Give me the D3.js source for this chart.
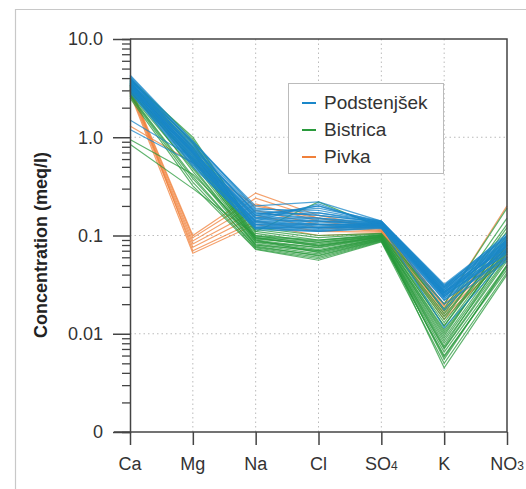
<!DOCTYPE html>
<html>
<head>
<meta charset="utf-8">
<script src="https://cdn.jsdelivr.net/npm/d3@7"></script>
<style>
  body { margin: 0; background: #fff; }
  svg { display: block; font-family: "Liberation Sans", Arial, sans-serif; }
</style>
</head>
<body>
<svg id="chart" width="526" height="489"></svg>
<script>
// ions on the x axis
var ions = ['Ca', 'Mg', 'Na', 'Cl', 'SO4', 'K', 'NO3']

// y ticks (log scale, bottom tick labelled "0")
var yTicks = [10, 1, 0.1, 0.01, 0.001]
var yTickLabels = ['10.0', '1.0', '0.1', '0.01', '0']

// samples, values in meq/l, order as ions
var podstenjsek = [
    [4.3, 0.92, 0.19, 0.17, 0.14, 0.031, 0.095],
    [4.1, 0.85, 0.18, 0.16, 0.138, 0.03, 0.09],
    [4.0, 0.8, 0.17, 0.15, 0.136, 0.029, 0.088],
    [3.9, 0.78, 0.165, 0.19, 0.14, 0.028, 0.1],
    [3.8, 0.74, 0.16, 0.14, 0.135, 0.027, 0.085],
    [3.7, 0.72, 0.155, 0.135, 0.133, 0.028, 0.08],
    [3.6, 0.7, 0.15, 0.13, 0.132, 0.026, 0.078],
    [3.5, 0.68, 0.145, 0.14, 0.13, 0.025, 0.082],
    [3.45, 0.66, 0.14, 0.13, 0.128, 0.027, 0.075],
    [3.4, 0.64, 0.138, 0.125, 0.13, 0.024, 0.072],
    [3.35, 0.62, 0.135, 0.12, 0.127, 0.026, 0.07],
    [3.3, 0.6, 0.13, 0.118, 0.125, 0.023, 0.068],
    [3.2, 0.58, 0.128, 0.125, 0.126, 0.025, 0.065],
    [3.15, 0.57, 0.125, 0.115, 0.124, 0.024, 0.07],
    [3.1, 0.55, 0.12, 0.112, 0.122, 0.022, 0.062],
    [3.0, 0.53, 0.118, 0.12, 0.12, 0.023, 0.06],
    [2.9, 0.52, 0.115, 0.11, 0.118, 0.022, 0.058],
    [4.2, 0.88, 0.2, 0.22, 0.14, 0.032, 0.1],
    [3.95, 0.76, 0.175, 0.16, 0.137, 0.03, 0.092],
    [3.75, 0.7, 0.16, 0.17, 0.134, 0.029, 0.087],
    [3.55, 0.65, 0.15, 0.15, 0.131, 0.028, 0.084],
    [3.25, 0.61, 0.14, 0.14, 0.129, 0.026, 0.077],
    [3.05, 0.56, 0.13, 0.13, 0.126, 0.025, 0.073],
    [2.85, 0.5, 0.12, 0.122, 0.123, 0.024, 0.067],
    [3.65, 0.82, 0.17, 0.145, 0.135, 0.027, 0.079],
    [3.85, 0.9, 0.185, 0.18, 0.138, 0.031, 0.097],
    [1.5, 0.62, 0.16, 0.2, 0.13, 0.0175, 0.08],
    [1.2, 0.55, 0.14, 0.21, 0.125, 0.0115, 0.06],
    [3.4, 0.69, 0.12, 0.11, 0.12, 0.02, 0.055],
    [4.05, 0.75, 0.125, 0.12, 0.13, 0.026, 0.09],
    [3.3, 0.72, 0.15, 0.2, 0.135, 0.03, 0.105],
    [3.6, 0.6, 0.135, 0.13, 0.128, 0.024, 0.085]
]

var bistrica = [
    [4.0, 0.95, 0.12, 0.1, 0.105, 0.02, 0.19],
    [3.8, 1.0, 0.115, 0.095, 0.104, 0.018, 0.15],
    [3.6, 0.9, 0.11, 0.09, 0.102, 0.016, 0.12],
    [3.5, 0.85, 0.105, 0.085, 0.1, 0.015, 0.1],
    [3.3, 0.8, 0.1, 0.08, 0.098, 0.013, 0.09],
    [3.2, 0.75, 0.095, 0.078, 0.097, 0.012, 0.085],
    [3.0, 0.7, 0.09, 0.075, 0.095, 0.011, 0.08],
    [2.9, 0.65, 0.088, 0.072, 0.094, 0.01, 0.075],
    [2.8, 0.6, 0.085, 0.07, 0.093, 0.009, 0.07],
    [3.7, 0.55, 0.082, 0.068, 0.092, 0.0085, 0.065],
    [3.4, 0.5, 0.08, 0.065, 0.09, 0.008, 0.06],
    [3.1, 0.45, 0.078, 0.062, 0.089, 0.007, 0.055],
    [2.7, 0.4, 0.075, 0.06, 0.088, 0.0065, 0.05],
    [2.6, 0.35, 0.073, 0.058, 0.087, 0.006, 0.045],
    [2.5, 0.32, 0.072, 0.056, 0.086, 0.005, 0.042],
    [0.85, 0.3, 0.1, 0.09, 0.1, 0.0045, 0.04],
    [0.95, 0.42, 0.095, 0.085, 0.098, 0.0055, 0.05],
    [3.9, 0.88, 0.11, 0.22, 0.12, 0.017, 0.13],
    [3.55, 0.78, 0.098, 0.088, 0.101, 0.014, 0.11],
    [3.25, 0.68, 0.092, 0.082, 0.099, 0.012, 0.095],
    [2.95, 0.58, 0.086, 0.076, 0.096, 0.0095, 0.082],
    [2.75, 0.48, 0.08, 0.07, 0.094, 0.0075, 0.068],
    [3.15, 0.62, 0.09, 0.067, 0.091, 0.0072, 0.058],
    [3.45, 0.72, 0.094, 0.079, 0.096, 0.0105, 0.072],
    [2.65, 0.38, 0.076, 0.063, 0.09, 0.0058, 0.048]
]

var pivka = [
    [3.3, 0.1, 0.27, 0.16, 0.12, 0.02, 0.2],
    [3.2, 0.095, 0.24, 0.15, 0.118, 0.019, 0.08],
    [3.1, 0.088, 0.21, 0.14, 0.115, 0.018, 0.075],
    [3.0, 0.082, 0.18, 0.13, 0.112, 0.017, 0.07],
    [2.9, 0.076, 0.16, 0.12, 0.11, 0.016, 0.065],
    [3.4, 0.07, 0.14, 0.11, 0.108, 0.015, 0.06],
    [2.8, 0.066, 0.13, 0.1, 0.105, 0.014, 0.062],
    [1.3, 0.55, 0.2, 0.15, 0.12, 0.02, 0.075]
]

var seriesNames = ['Podstenjšek', 'Bistrica', 'Pivka']
var seriesColors = ['#1a87c9', '#2a9a3c', '#f0803a']

var svg = d3.select('#chart')

var pLeft = 130, pRight = 507, pTop = 39, pBottom = 432

// outer frame
svg.append('path')
    .attr('d', 'M15.5,489 V9.5 H526')
    .attr('fill', 'none')
    .attr('stroke', '#c8c8c8')
    .attr('stroke-width', 1.2)

var x = d3.scalePoint().domain(ions).range([pLeft, pRight])
var y = d3.scaleLog().domain([0.001, 10]).range([pBottom, pTop])

// dotted grid
svg.append('g').selectAll('line')
    .data(ions.slice(1, -1))
    .enter().append('line')
    .attr('x1', function(d) { return x(d) }).attr('x2', function(d) { return x(d) })
    .attr('y1', pTop).attr('y2', pBottom)
    .attr('stroke', '#bbb').attr('stroke-dasharray', '1.5,3')

svg.append('g').selectAll('line')
    .data([1, 0.1, 0.01])
    .enter().append('line')
    .attr('x1', pLeft).attr('x2', pRight)
    .attr('y1', function(d) { return y(d) }).attr('y2', function(d) { return y(d) })
    .attr('stroke', '#bbb').attr('stroke-dasharray', '1.5,3')

// lines
var line = d3.line()
    .x(function(d, i) { return x(ions[i]) })
    .y(function(d) { return y(d) })

var groups = [pivka, bistrica, podstenjsek]
var groupColors = [seriesColors[2], seriesColors[1], seriesColors[0]]
groups.forEach(function(data, k) {
    svg.append('g').selectAll('path')
        .data(data)
        .enter().append('path')
        .attr('d', line)
        .attr('fill', 'none')
        .attr('stroke', groupColors[k])
        .attr('stroke-width', 1.2)
        .attr('stroke-opacity', 0.75)
})

// plot box (top and right)
svg.append('path')
    .attr('d', 'M' + pLeft + ',' + pTop + ' H' + pRight + ' V' + pBottom)
    .attr('fill', 'none')
    .attr('stroke', '#444')
    .attr('stroke-width', 1.5)

// y axis with long major and short minor ticks
var minor = []
for (var e = -3; e < 1; e++) {
    for (var m = 2; m <= 9; m++) minor.push(m * Math.pow(10, e))
}
var gy = svg.append('g').attr('transform', 'translate(' + pLeft + ',0)')
    .call(d3.axisLeft(y).tickValues(minor).tickSize(8).tickFormat(''))
gy.selectAll('line').attr('stroke', '#444').attr('stroke-width', 1.3)
gy.select('.domain').attr('stroke', '#444').attr('stroke-width', 1.5)

var gyMajor = svg.append('g').attr('transform', 'translate(' + pLeft + ',0)')
    .call(d3.axisLeft(y).tickValues(yTicks).tickSize(17).tickPadding(10)
        .tickFormat(function(d, i) { return yTickLabels[i] }))
gyMajor.select('.domain').remove()
gyMajor.selectAll('line').attr('stroke', '#444').attr('stroke-width', 1.5)
gyMajor.selectAll('text')
    .attr('fill', '#333')
    .style('font-size', '18px')
    .style('font-family', '"Liberation Sans", Arial, sans-serif')

// x axis
var gx = svg.append('g').attr('transform', 'translate(0,' + pBottom + ')')
    .call(d3.axisBottom(x).tickSize(13).tickFormat(''))
gx.select('.domain').remove()
gx.selectAll('line').attr('stroke', '#444').attr('stroke-width', 1.5)

svg.append('line')
    .attr('x1', 114).attr('x2', pRight)
    .attr('y1', pBottom).attr('y2', pBottom)
    .attr('stroke', '#444').attr('stroke-width', 1.5)

var xl = svg.append('g').selectAll('text')
    .data(ions)
    .enter().append('text')
    .attr('x', function(d) { return x(d) })
    .attr('y', 470)
    .attr('text-anchor', 'middle')
    .attr('fill', '#333')
    .style('font-size', '18px')
xl.each(function(d) {
    var t = d3.select(this)
    var m = d.match(/^([A-Za-z]+)(\d*)$/)
    t.append('tspan').text(m[1])
    if (m[2]) t.append('tspan').style('font-size', '12px').text(m[2])
})

// y title
svg.append('text')
    .attr('transform', 'translate(47,245) rotate(-90)')
    .attr('text-anchor', 'middle')
    .attr('fill', '#222')
    .style('font-size', '18px')
    .style('font-weight', 'bold')
    .text('Concentration (meq/l)')

// legend
var lg = svg.append('g')
lg.append('rect')
    .attr('x', 288.5).attr('y', 83.5)
    .attr('width', 155).attr('height', 90)
    .attr('fill', '#fff')
    .attr('stroke', '#bbb')

seriesNames.forEach(function(name, i) {
    var yy = 103 + i * 27
    lg.append('line')
        .attr('x1', 302).attr('x2', 316)
        .attr('y1', yy).attr('y2', yy)
        .attr('stroke', seriesColors[i]).attr('stroke-width', 2)
    lg.append('text')
        .attr('x', 324).attr('y', yy + 6)
        .attr('fill', '#333')
        .style('font-size', '19px')
        .text(name)
})
</script>
</body>
</html>
